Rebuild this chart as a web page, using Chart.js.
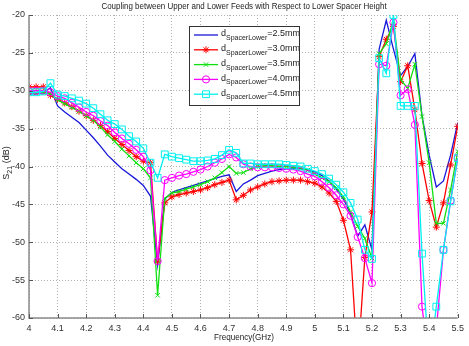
<!DOCTYPE html>
<html>
<head>
<meta charset="utf-8">
<script src="https://cdn.jsdelivr.net/npm/chart.js@4.4.1/dist/chart.umd.min.js"></script>
<style>
  html, body { margin: 0; padding: 0; background: #fff; }
  canvas { display: block; }
</style>
</head>
<body>
<canvas id="chart" width="469" height="346"></canvas>
<script>
// Frequency points (GHz)
const freq = [
    4.000, 4.025, 4.050, 4.075, 4.100, 4.125, 4.150, 4.175, 4.200, 4.225,
    4.250, 4.275, 4.300, 4.325, 4.350, 4.375, 4.400, 4.425, 4.450, 4.475,
    4.500, 4.525, 4.550, 4.575, 4.600, 4.625, 4.650, 4.675, 4.700, 4.725,
    4.750, 4.775, 4.800, 4.825, 4.850, 4.875, 4.900, 4.925, 4.950, 4.975,
    5.000, 5.025, 5.050, 5.075, 5.100, 5.125, 5.150, 5.175, 5.200, 5.225,
    5.250, 5.275, 5.300, 5.325, 5.350, 5.375, 5.400, 5.425, 5.450, 5.475,
    5.500
];

// S21 (dB) for each lower spacer height
const s21_25 = [
    -30.4, -30.4, -30.3, -29.6, -32.0, -32.8, -33.5, -34.2, -35.2, -36.2,
    -37.3, -38.5, -39.4, -40.3, -41.0, -41.7, -42.5, -43.9, -53.0, -44.3,
    -43.4, -43.1, -42.8, -42.5, -42.2, -41.9, -41.6, -41.3, -41.1, -43.3,
    -42.3, -41.8, -41.2, -40.9, -40.6, -40.4, -40.3, -40.2, -40.3, -40.4,
    -40.7, -41.2, -41.9, -43.0, -44.3, -46.3, -49.2, -47.7, -51.0, -24.5,
    -20.7, -24.5, -28.0, -26.8, -25.1, -33.3, -38.5, -42.7, -41.9, -38.5,
    -34.2
];
const s21_30 = [
    -29.5, -29.5, -29.5, -30.6, -31.1, -31.6, -32.1, -32.7, -33.3, -33.9,
    -34.6, -35.4, -36.3, -37.1, -37.9, -38.7, -39.3, -39.5, -52.5, -44.8,
    -44.0, -43.7, -43.5, -43.3, -43.1, -42.8, -42.4, -42.1, -41.8, -44.4,
    -43.8, -43.1, -42.7, -42.3, -42.0, -41.9, -41.8, -41.8, -41.8, -42.0,
    -42.2, -42.7, -43.5, -44.6, -47.1, -51.0, -66.0, -52.0, -46.0, -25.5,
    -23.2, -21.5, -28.8, -26.7, -32.5, -39.6, -44.5, -48.0, -44.8, -39.8,
    -34.7
];
const s21_35 = [
    -30.3, -30.3, -30.2, -30.4, -31.2, -31.7, -32.2, -32.7, -33.3, -33.9,
    -34.8, -35.8, -36.7, -37.7, -38.6, -39.5, -40.3, -41.5, -57.0, -44.2,
    -43.5, -43.3, -43.0, -42.7, -42.4, -42.0, -41.5, -40.8, -40.0, -40.9,
    -40.8, -40.3, -40.0, -39.9, -39.9, -40.0, -40.0, -40.1, -40.2, -40.5,
    -41.0, -41.5, -42.0, -42.8, -44.0, -46.0, -47.9, -49.5, -52.1, -25.1,
    -23.8, -20.8, -28.5, -29.7, -26.5, -33.4, -39.5, -47.5, -47.5, -43.1,
    -38.0
];
const s21_40 = [
    -30.0, -30.0, -30.0, -30.2, -30.7, -31.0, -31.6, -32.2, -32.8, -33.3,
    -34.0, -34.6, -35.5, -36.3, -37.0, -37.8, -38.7, -40.5, -52.5, -41.8,
    -41.5, -41.2, -41.0, -40.7, -40.4, -40.0, -39.5, -39.0, -38.4, -38.8,
    -39.7, -40.0, -40.1, -40.1, -40.1, -40.2, -40.3, -40.4, -40.6, -41.0,
    -41.3, -42.0, -42.8, -43.8, -45.0, -46.5, -49.3, -52.1, -55.4, -26.5,
    -26.7, -21.0, -30.6, -29.8, -34.5, -58.5, -66.0, -61.5, -51.0, -44.5,
    -38.9
];
const s21_45 = [
    -30.2, -30.2, -30.1, -29.0, -30.5, -30.7, -31.0, -31.3, -31.7, -32.3,
    -33.1, -33.9, -34.4, -35.1, -36.0, -36.7, -37.6, -39.5, -41.5, -38.4,
    -38.7, -38.9, -39.1, -39.3, -39.3, -39.2, -39.0, -38.5, -37.8, -38.2,
    -39.6, -39.6, -39.7, -39.7, -39.7, -39.7, -39.8, -39.9, -40.0, -40.3,
    -40.6, -41.0, -41.6, -42.4, -43.4, -44.8, -47.0, -51.0, -52.2, -25.7,
    -27.7, -20.0, -32.0, -32.0, -32.0, -51.5, -66.0, -58.5, -51.0, -44.6,
    -38.9
];

const spacerLabels = ['=2.5mm', '=3.0mm', '=3.5mm', '=4.0mm', '=4.5mm'];
const xTicks = [4, 4.1, 4.2, 4.3, 4.4, 4.5, 4.6, 4.7, 4.8, 4.9, 5, 5.1, 5.2, 5.3, 5.4, 5.5];
const yTicks = [-20, -25, -30, -35, -40, -45, -50, -55, -60];

const FONT = '"Liberation Sans", Arial, sans-serif';

const seriesStyles = [
    { data: s21_25, color: '#1818d8', marker: false,       radius: 0 },
    { data: s21_30, color: '#ff0000', marker: 'star',      radius: 3.5 },
    { data: s21_35, color: '#10e010', marker: 'crossRot',  radius: 3.2 },
    { data: s21_40, color: '#ff00ff', marker: 'circle',    radius: 3.6 },
    { data: s21_45, color: '#00f0f0', marker: 'rect',      radius: 4.8 }
];

const datasets = seriesStyles.map((s, i) => ({
    label: 'd SpacerLower' + spacerLabels[i],
    data: freq.map((f, k) => ({ x: f, y: s.data[k] })),
    borderColor: s.color,
    backgroundColor: s.color,
    borderWidth: 1.3,
    tension: 0,
    pointStyle: s.marker,
    pointRadius: s.radius,
    pointBorderWidth: 1,
    pointBorderColor: s.color,
    pointBackgroundColor: 'rgba(0,0,0,0)',
    order: 5 - i
}));

// Draw a marker the same way as the plot (used in the legend)
function drawMarker(ctx, style, x, y, r, color) {
    if (!style) return;
    ctx.save();
    ctx.strokeStyle = color;
    ctx.lineWidth = 1;
    ctx.beginPath();
    if (style === 'circle') {
        ctx.arc(x, y, r, 0, Math.PI * 2);
    } else if (style === 'rect') {
        const h = Math.SQRT1_2 * r;
        ctx.rect(x - h, y - h, 2 * h, 2 * h);
    } else {
        const d = Math.SQRT1_2 * r;
        ctx.moveTo(x - d, y - d); ctx.lineTo(x + d, y + d);
        ctx.moveTo(x - d, y + d); ctx.lineTo(x + d, y - d);
        if (style === 'star') {
            ctx.moveTo(x - r, y); ctx.lineTo(x + r, y);
            ctx.moveTo(x, y - r); ctx.lineTo(x, y + r);
        }
    }
    ctx.stroke();
    ctx.restore();
}

// Text squeezed horizontally, the reference font is narrower than ours
function narrowText(ctx, text, x, y, squeeze) {
    ctx.save();
    ctx.translate(x, y);
    ctx.scale(squeeze, 1);
    ctx.fillText(text, 0, 0);
    ctx.restore();
}

const decorations = {
    id: 'decorations',
    afterDraw(chart) {
        const ctx = chart.ctx;
        const a = chart.chartArea;
        const xs = chart.scales.x, ys = chart.scales.y;
        ctx.save();

        // axis lines
        ctx.strokeStyle = '#8a8a8a';
        ctx.lineWidth = 1.5;
        ctx.beginPath();
        ctx.moveTo(a.left, a.top);
        ctx.lineTo(a.left, a.bottom);
        ctx.lineTo(a.right, a.bottom);
        ctx.stroke();

        // inner tick marks
        ctx.lineWidth = 1;
        ctx.strokeStyle = '#555';
        ctx.beginPath();
        xTicks.forEach(t => {
            const px = Math.round(xs.getPixelForValue(t)) + 0.5;
            ctx.moveTo(px, a.bottom); ctx.lineTo(px, a.bottom - 4);
        });
        yTicks.forEach(t => {
            const py = Math.round(ys.getPixelForValue(t)) + 0.5;
            ctx.moveTo(a.left, py); ctx.lineTo(a.left + 4, py);
        });
        ctx.stroke();

        // title
        ctx.fillStyle = '#222';
        ctx.textAlign = 'center';
        ctx.textBaseline = 'middle';
        ctx.font = '9.5px ' + FONT;
        narrowText(ctx, 'Coupling between Upper and Lower Feeds with Respect to Lower Spacer Height', 244, 6, 0.84);

        // x axis title
        ctx.font = '9px ' + FONT;
        narrowText(ctx, 'Frequency(GHz)', 244, 338, 0.9);

        // y axis title with subscript
        ctx.save();
        ctx.translate(7, 163);
        ctx.rotate(-Math.PI / 2);
        ctx.textAlign = 'left';
        ctx.font = '9px ' + FONT;
        const w1 = ctx.measureText('S').width;
        ctx.font = '7px ' + FONT;
        const w2 = ctx.measureText('21').width;
        ctx.font = '9px ' + FONT;
        const w3 = ctx.measureText(' (dB)').width;
        let tx = -(w1 + w2 + w3) / 2;
        ctx.fillText('S', tx, 0);
        ctx.font = '7px ' + FONT;
        ctx.fillText('21', tx + w1, 3);
        ctx.font = '9px ' + FONT;
        ctx.fillText(' (dB)', tx + w1 + w2, 0);
        ctx.restore();

        // legend
        const lx = 189.5, ly = 26.5, lw = 110, lh = 79;
        ctx.fillStyle = '#fff';
        ctx.fillRect(lx, ly, lw, lh);
        ctx.strokeStyle = '#333';
        ctx.lineWidth = 1;
        ctx.strokeRect(lx, ly, lw, lh);
        ctx.textAlign = 'left';
        seriesStyles.forEach((s, i) => {
            const y = 35 + i * 14.8;
            ctx.strokeStyle = s.color;
            ctx.lineWidth = 1.3;
            ctx.beginPath();
            ctx.moveTo(194, y); ctx.lineTo(218, y);
            ctx.stroke();
            drawMarker(ctx, s.marker, 206, y, s.radius, s.color);
            ctx.fillStyle = '#222';
            ctx.font = '9px ' + FONT;
            ctx.fillText('d', 221, y - 1);
            const dw = ctx.measureText('d').width;
            ctx.font = '7px ' + FONT;
            ctx.fillText('SpacerLower', 221 + dw, y + 3);
            const sw = ctx.measureText('SpacerLower').width;
            ctx.font = '9px ' + FONT;
            ctx.fillText(spacerLabels[i], 221 + dw + sw, y - 1);
        });

        ctx.restore();
    }
};

new Chart(document.getElementById('chart').getContext('2d'), {
    type: 'line',
    data: { datasets: datasets },
    options: {
        responsive: false,
        animation: false,
        devicePixelRatio: 1,
        layout: { padding: { top: 15, right: 9, left: 0, bottom: 0 } },
        plugins: {
            legend: { display: false },
            title: { display: false },
            tooltip: { enabled: false }
        },
        scales: {
            x: {
                type: 'linear',
                min: 4,
                max: 5.5,
                afterFit: s => { s.height = 28; },
                afterBuildTicks: s => { s.ticks = xTicks.map(v => ({ value: v })); },
                ticks: {
                    autoSkip: false,
                    maxRotation: 0,
                    padding: 5,
                    color: '#333',
                    font: { family: FONT, size: 9 },
                    callback: v => String(+v.toFixed(2))
                },
                grid: { color: '#b0b0b0', lineWidth: 1, drawTicks: false },
                border: { display: false, dash: [1, 2] }
            },
            y: {
                min: -60,
                max: -20,
                afterFit: s => { s.width = 29; },
                afterBuildTicks: s => { s.ticks = yTicks.map(v => ({ value: v })); },
                ticks: {
                    padding: 4,
                    color: '#333',
                    font: { family: FONT, size: 9 },
                    callback: v => String(v)
                },
                grid: { color: '#b0b0b0', lineWidth: 1, drawTicks: false },
                border: { display: false, dash: [1, 2] }
            }
        }
    },
    plugins: [decorations]
});
</script>
</body>
</html>
